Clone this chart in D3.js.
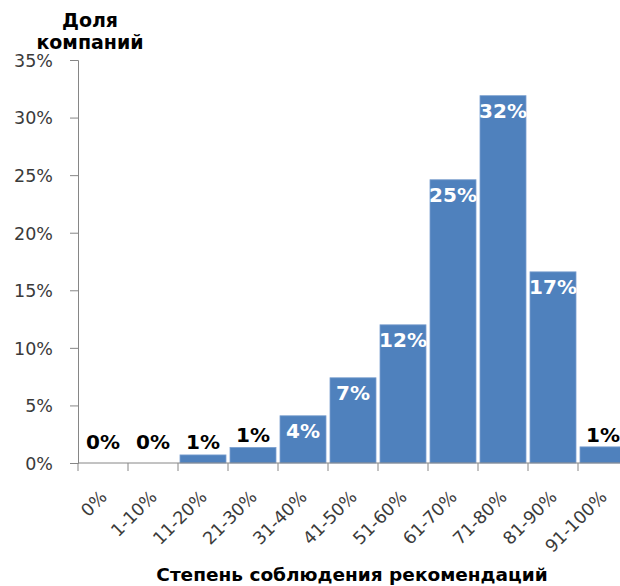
<!DOCTYPE html>
<html>
<head>
<meta charset="utf-8">
<script src="https://cdn.jsdelivr.net/npm/d3@7"></script>
<style>
  html, body { margin: 0; padding: 0; background: #fff; }
  svg { display: block; }
</style>
</head>
<body>
<svg id="chart" width="620" height="586"></svg>
<script>
// Share of companies by degree of compliance with recommendations
const categories = ["0%", "1-10%", "11-20%", "21-30%", "31-40%", "41-50%",
                    "51-60%", "61-70%", "71-80%", "81-90%", "91-100%"];
const shares = [0, 0, 0.7, 1.35, 4.1, 7.4, 12.0, 24.6, 31.9, 16.6, 1.4];
const valueLabels = ["0%", "0%", "1%", "1%", "4%", "7%", "12%", "25%", "32%", "17%", "1%"];
const yTicks = [0, 5, 10, 15, 20, 25, 30, 35];

const yTitle = ["Доля", "компаний"];
const xTitle = "Степень соблюдения рекомендаций";

const svg = d3.select("#chart");
const plot = { left: 78, right: 628, top: 60, bottom: 463 };

const x = d3.scaleBand()
  .domain(categories)
  .range([plot.left, plot.right])
  .paddingInner(0.08)
  .paddingOuter(0.04);

const y = d3.scaleLinear()
  .domain([0, 35])
  .range([plot.bottom, plot.top]);

const axisColor = "#868686";
const textColor = "#3a3a3a";

// Bars
svg.append("g")
  .selectAll("rect")
  .data(categories)
  .join("rect")
  .attr("x", d => x(d))
  .attr("width", x.bandwidth())
  .attr("y", (d, i) => y(shares[i]))
  .attr("height", (d, i) => y(0) - y(shares[i]))
  .attr("fill", "#4f81bd")
  .attr("stroke", "#7a9fcf")
  .attr("stroke-width", 0.8);

// Y axis
const yAxis = svg.append("g")
  .attr("transform", `translate(${plot.left},0)`)
  .call(d3.axisLeft(y).tickValues(yTicks).tickFormat(d => d + "%").tickSize(8).tickPadding(17));
yAxis.select(".domain").attr("stroke", axisColor);
yAxis.selectAll(".tick line").attr("stroke", axisColor);
yAxis.selectAll(".tick text")
  .attr("fill", textColor)
  .attr("font-family", "DejaVu Sans, sans-serif")
  .attr("font-size", 17.5)
  .attr("dy", "0.36em");

// X axis baseline and tick marks at category boundaries
const step = x.step();
const gap = step * x.paddingInner() / 2;
const bounds = categories.map(c => x(c) - gap).concat([x(categories[categories.length - 1]) + x.bandwidth() + gap]);
const xAxis = svg.append("g");
xAxis.append("line")
  .attr("x1", plot.left).attr("x2", plot.right)
  .attr("y1", y(0)).attr("y2", y(0))
  .attr("stroke", axisColor);
xAxis.selectAll("line.tk")
  .data(bounds)
  .join("line")
  .attr("class", "tk")
  .attr("x1", d => d).attr("x2", d => d)
  .attr("y1", y(0)).attr("y2", y(0) + 8)
  .attr("stroke", axisColor);

// Rotated category labels
xAxis.selectAll("text.cat")
  .data(categories)
  .join("text")
  .attr("class", "cat")
  .attr("text-anchor", "end")
  .attr("font-family", "DejaVu Sans, sans-serif")
  .attr("font-size", 17.5)
  .attr("fill", textColor)
  .attr("transform", d => `translate(${x(d) + x.bandwidth() / 2 + 5},${y(0) + 35}) rotate(-45)`)
  .text(d => d);

// Value labels: white inside tall bars, black above short ones
svg.append("g")
  .selectAll("text")
  .data(categories)
  .join("text")
  .attr("text-anchor", "middle")
  .attr("font-family", "DejaVu Sans, sans-serif")
  .attr("font-weight", "bold")
  .attr("font-size", 20)
  .attr("x", d => x(d) + x.bandwidth() / 2)
  .attr("y", (d, i) => shares[i] >= 3 ? y(shares[i]) + 22 : Math.min(y(shares[i]) - 5, y(0) - 14))
  .attr("fill", (d, i) => shares[i] >= 3 ? "#ffffff" : "#000000")
  .text((d, i) => valueLabels[i]);

// Axis titles
svg.append("text")
  .attr("text-anchor", "middle")
  .attr("font-family", "DejaVu Sans, sans-serif")
  .attr("font-weight", "bold")
  .attr("font-size", 19)
  .attr("fill", "#000")
  .selectAll("tspan")
  .data(yTitle)
  .join("tspan")
  .attr("x", 90)
  .attr("y", (d, i) => 27 + i * 22)
  .text(d => d);

svg.append("text")
  .attr("text-anchor", "middle")
  .attr("font-family", "DejaVu Sans, sans-serif")
  .attr("font-weight", "bold")
  .attr("font-size", 18.5)
  .attr("fill", "#000")
  .attr("x", 352)
  .attr("y", 581)
  .text(xTitle);
</script>
</body>
</html>
